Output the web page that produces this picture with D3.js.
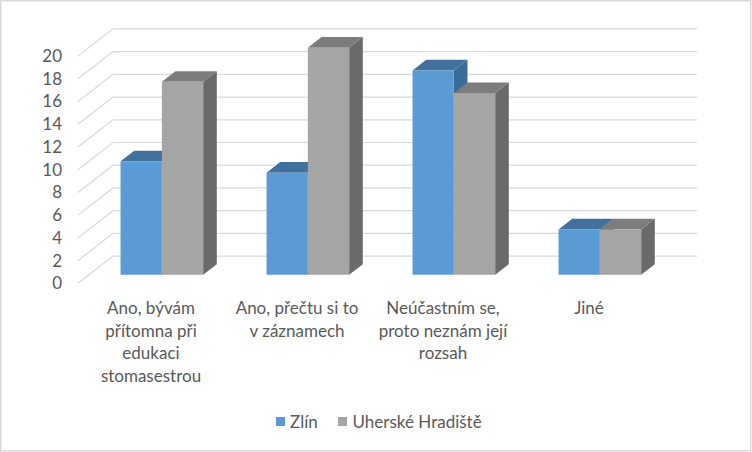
<!DOCTYPE html>
<html>
<head>
<meta charset="utf-8">
<script src="https://cdn.jsdelivr.net/npm/d3@7"></script>
<style>
html,body{margin:0;padding:0;background:#fff;}
svg{display:block;}
text{font-family:"Lato","Open Sans",sans-serif;fill:#595959;}
</style>
</head>
<body>
<svg id="chart" width="752" height="452"></svg>
<script>
const categories = ["Ano, bývám přítomna při edukaci stomasestrou", "Ano, přečtu si to v záznamech", "Neúčastním se, proto neznám její rozsah", "Jiné"];
const categoryLines = [
  ["Ano, bývám", "přítomna při", "edukaci", "stomasestrou"],
  ["Ano, přečtu si to", "v záznamech"],
  ["Neúčastním se,", "proto neznám její", "rozsah"],
  ["Jiné"]
];
const seriesNames = ["Zlín", "Uherské Hradiště"];
const zlin = [10, 9, 18, 4];
const uh = [17, 20, 16, 4];
const yTicks = [0, 2, 4, 6, 8, 10, 12, 14, 16, 18, 20];

const seriesValues = [zlin, uh];
const colors = [
  {front: "#5B9BD5", top: "#41719C", side: "#3B6B99"},
  {front: "#A5A5A5", top: "#7C7C7C", side: "#6A6A6A"}
];
const FS = 17;

const svg = d3.select("#chart");
svg.append("rect").attr("x", 0.75).attr("y", 0.75).attr("width", 750).attr("height", 450)
  .attr("fill", "#fff").attr("stroke", "#D9D9D9").attr("stroke-width", 1.5);

const X0 = 78, Y0 = 283.3, W = 584;
const DX = 35, DY = -27.2;
const f0 = 0.31, f1 = 0.70;

const x = d3.scaleBand().domain(categories).range([0, W]);
const y = d3.scaleLinear().domain([0, 20]).range([0, 227.2]);
const groupW = 82.6;
const xs = d3.scaleBand().domain(seriesNames)
  .range([(x.bandwidth() - groupW) / 2, (x.bandwidth() + groupW) / 2]);

function P(px, v, d) { return [X0 + px + d * DX, Y0 - y(v) + d * DY]; }

// gridlines
const grid = svg.append("g");
yTicks.forEach(t => {
  const a = P(0, t, 0), b = P(0, t, 1), c = P(W, t, 1);
  grid.append("path").attr("d", `M${a}L${b}L${c}`).attr("fill", "none")
    .attr("stroke", "#D9D9D9").attr("stroke-width", 1.2);
});

// y tick labels
svg.append("g").selectAll("text").data(yTicks).join("text")
  .attr("x", 62).attr("y", d => P(0, d, 0)[1]).attr("dy", "0.35em")
  .attr("text-anchor", "end").attr("font-size", FS).text(d => d);

// bars
const bars = svg.append("g");
categories.forEach((cat, i) => {
  seriesNames.forEach((s, j) => {
    const v = seriesValues[j][i];
    const xa = x(cat) + xs(s), xb = xa + xs.bandwidth();
    const col = colors[j];
    const poly = pts => "M" + pts.map(p => p.join(",")).join("L") + "Z";
    bars.append("path").attr("d", poly([P(xb, 0, f0), P(xb, 0, f1), P(xb, v, f1), P(xb, v, f0)])).attr("fill", col.side);
    bars.append("path").attr("d", poly([P(xa, v, f0), P(xb, v, f0), P(xb, v, f1), P(xa, v, f1)])).attr("fill", col.top);
    bars.append("path").attr("d", poly([P(xa, 0, f0), P(xb, 0, f0), P(xb, v, f0), P(xa, v, f0)])).attr("fill", col.front);
  });
});

// category labels
const labels = svg.append("g");
categories.forEach((cat, i) => {
  const cx = X0 + x(cat) + x.bandwidth() / 2;
  const t = labels.append("text").attr("text-anchor", "middle").attr("font-size", FS);
  categoryLines[i].forEach((ln, k) => {
    t.append("tspan").attr("x", cx).attr("y", 308 + k * 22.7).attr("dy", "0.35em").text(ln);
  });
});

// legend
const legend = svg.append("g");
const legendPos = [{sx: 276, tx: 290}, {sx: 338, tx: 352.5}];
seriesNames.forEach((s, j) => {
  legend.append("rect").attr("x", legendPos[j].sx).attr("y", 417).attr("width", 9).attr("height", 9).attr("fill", colors[j].front);
  legend.append("text").attr("x", legendPos[j].tx).attr("y", 421.7).attr("dy", "0.35em").attr("font-size", FS).text(s);
});
</script>
</body>
</html>
